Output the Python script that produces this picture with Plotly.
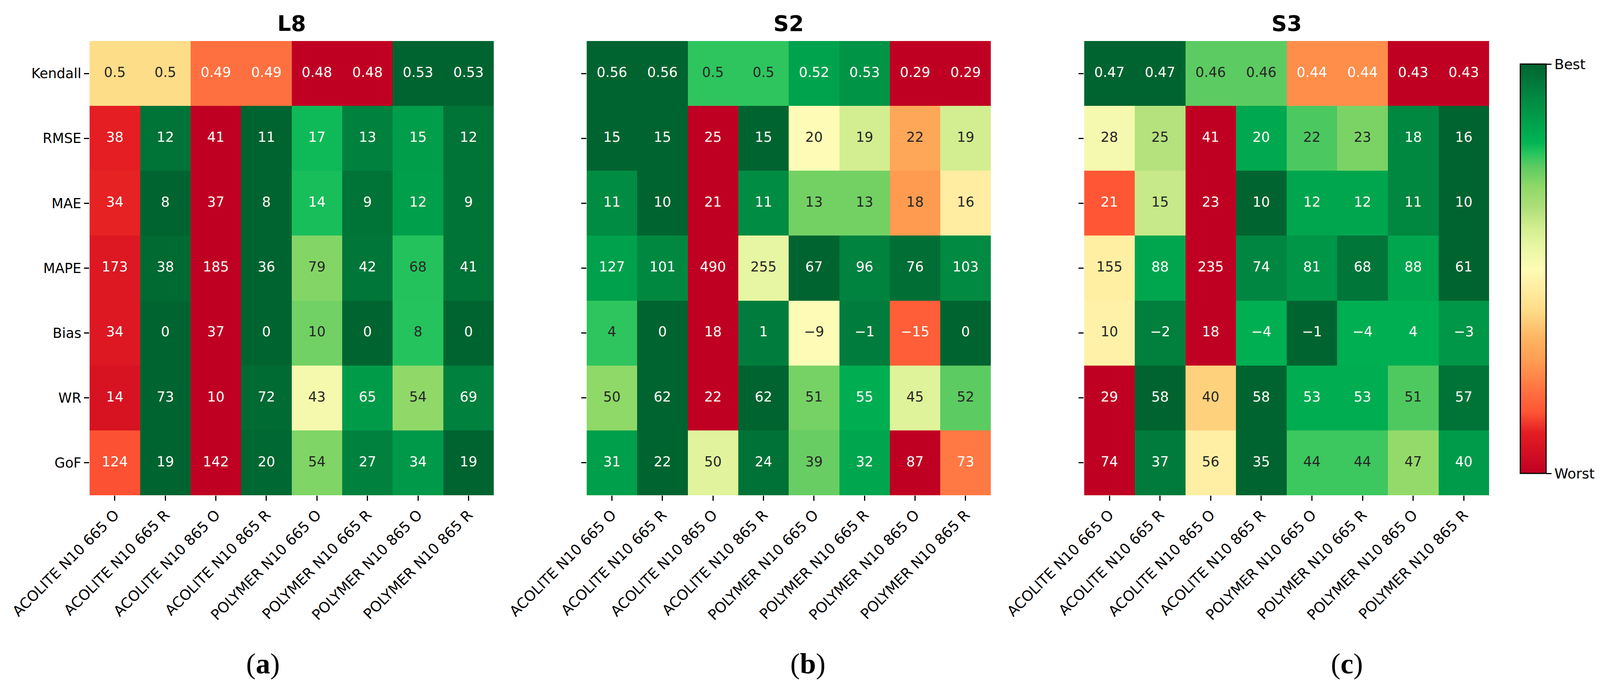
import plotly.graph_objects as go

# ---------------- data ----------------
metrics = ["Kendall", "RMSE", "MAE", "MAPE", "Bias", "WR", "GoF"]
methods = ["ACOLITE N10 665 O", "ACOLITE N10 665 R", "ACOLITE N10 865 O", "ACOLITE N10 865 R",
           "POLYMER N10 665 O", "POLYMER N10 665 R", "POLYMER N10 865 O", "POLYMER N10 865 R"]

l8_values = [
    [0.5, 0.5, 0.49, 0.49, 0.48, 0.48, 0.53, 0.53],
    [38, 12, 41, 11, 17, 13, 15, 12],
    [34, 8, 37, 8, 14, 9, 12, 9],
    [173, 38, 185, 36, 79, 42, 68, 41],
    [34, 0, 37, 0, 10, 0, 8, 0],
    [14, 73, 10, 72, 43, 65, 54, 69],
    [124, 19, 142, 20, 54, 27, 34, 19],
]
s2_values = [
    [0.56, 0.56, 0.5, 0.5, 0.52, 0.53, 0.29, 0.29],
    [15, 15, 25, 15, 20, 19, 22, 19],
    [11, 10, 21, 11, 13, 13, 18, 16],
    [127, 101, 490, 255, 67, 96, 76, 103],
    [4, 0, 18, 1, -9, -1, -15, 0],
    [50, 62, 22, 62, 51, 55, 45, 52],
    [31, 22, 50, 24, 39, 32, 87, 73],
]
s3_values = [
    [0.47, 0.47, 0.46, 0.46, 0.44, 0.44, 0.43, 0.43],
    [28, 25, 41, 20, 22, 23, 18, 16],
    [21, 15, 23, 10, 12, 12, 11, 10],
    [155, 88, 235, 74, 81, 68, 88, 61],
    [10, -2, 18, -4, -1, -4, 4, -3],
    [29, 58, 40, 58, 53, 53, 51, 57],
    [74, 37, 56, 35, 44, 44, 47, 40],
]
sensor_titles = ["L8", "S2", "S3"]
panel_labels = ["a", "b", "c"]
higher_is_better = ["Kendall", "WR"]
abs_is_better = ["Bias"]
cbar_labels = ["Worst", "Best"]

# ---------------- style / layout ----------------
colorscale = [
    [0.00, "#c00023"], [0.10, "#e41e22"], [0.15, "#ff5535"], [0.20, "#ff7040"],
    [0.27, "#ff9a50"], [0.33, "#feb462"], [0.40, "#fedd88"], [0.47, "#fff2a8"],
    [0.50, "#fdfbb5"], [0.55, "#eaf7a5"], [0.60, "#d3ee90"], [0.65, "#addf78"],
    [0.70, "#8fd968"], [0.75, "#5ccb61"], [0.78, "#2ac55e"], [0.81, "#00b454"],
    [0.87, "#009c4a"], [0.93, "#00843f"], [1.00, "#006430"],
]
FONT = "DejaVu Sans"
REF_W, REF_H = 4342, 1764      # reference picture size
VIEW_W = 4096                  # visible browser width
PAGE_MARGIN = 8                # default html body margin
SX = VIEW_W / REF_W
W = VIEW_W - PAGE_MARGIN
H = REF_H - PAGE_MARGIN


def fx(X):
    """reference x pixel -> paper fraction"""
    return (X * SX - PAGE_MARGIN) / W


def fy(Y):
    """reference y pixel (from top) -> paper fraction (from bottom)"""
    return 1 - (Y - PAGE_MARGIN) / H


x_domains = [(fx(243), fx(1340)), (fx(1592), fx(2689)), (fx(2942), fx(4041))]
y_domain = (fy(1268), fy(105))
panel_label_x = [fx(713), fx(2192), fx(3655)]


def row_scores(rows):
    out = []
    for m, row in zip(metrics, rows):
        v = [abs(x) for x in row] if m in abs_is_better else list(row)
        lo, hi = min(v), max(v)
        if m in higher_is_better:
            out.append([(x - lo) / (hi - lo) for x in v])
        else:
            out.append([(hi - x) / (hi - lo) for x in v])
    return out


def fmt(v):
    return f"{v:g}".replace("-", "\u2212")


fig = go.Figure()
all_values = [l8_values, s2_values, s3_values]
for i, vals in enumerate(all_values):
    sc = row_scores(vals)
    xa = "x" if i == 0 else f"x{i+1}"
    ya = "y" if i == 0 else f"y{i+1}"
    fig.add_trace(go.Heatmap(
        z=sc, x=methods, y=metrics, zmin=0, zmax=1, colorscale=colorscale,
        xaxis=xa, yaxis=ya, hoverinfo="skip",
        showscale=(i == 2),
        colorbar=dict(
            x=fx(4126), xanchor="left", xpad=0, ypad=0,
            y=(fy(164) + fy(1212)) / 2, yanchor="middle",
            len=fy(164) - fy(1212), lenmode="fraction", thickness=66,
            outlinewidth=3, outlinecolor="black",
            tickvals=[0, 1], ticktext=cbar_labels, ticks="outside",
            ticklen=13, tickwidth=2.5, tickcolor="black",
            tickfont=dict(family=FONT, size=36, color="black"),
        ),
    ))
    tx, ty, tt, tc = [], [], [], []
    for r, m in enumerate(metrics):
        for c, meth in enumerate(methods):
            tx.append(meth)
            ty.append(m)
            tt.append(fmt(vals[r][c]))
            s = sc[r][c]
            tc.append("#262626" if 0.26 < s <= 0.79 else "white")
    fig.add_trace(go.Scatter(
        x=tx, y=ty, text=tt, mode="text", xaxis=xa, yaxis=ya,
        textfont=dict(family=FONT, size=35, color=tc),
        hoverinfo="skip", showlegend=False,
    ))

    axis_common = dict(showgrid=False, zeroline=False, showline=False,
                       ticks="outside", ticklen=13, tickwidth=2.5, tickcolor="black",
                       automargin=False)
    xkey = "xaxis" if i == 0 else f"xaxis{i+1}"
    ykey = "yaxis" if i == 0 else f"yaxis{i+1}"
    fig.update_layout({
        xkey: dict(domain=list(x_domains[i]), anchor=ya, type="category",
                   tickangle=-45, tickfont=dict(family=FONT, size=37, color="black"),
                   **axis_common),
        ykey: dict(domain=list(y_domain), anchor=xa, type="category",
                   autorange="reversed", showticklabels=(i == 0),
                   tickfont=dict(family=FONT, size=35, color="black"),
                   **axis_common),
    })
    fig.add_annotation(
        x=(x_domains[i][0] + x_domains[i][1]) / 2, y=fy(60), xref="paper", yref="paper",
        text=f"<b>{sensor_titles[i]}</b>", showarrow=False, xanchor="center", yanchor="middle",
        font=dict(family=FONT, size=55, color="black"),
    )
    fig.add_annotation(
        x=panel_label_x[i], y=fy(1699), xref="paper", yref="paper",
        text=f"(<b>{panel_labels[i]}</b>)", showarrow=False, xanchor="center", yanchor="middle",
        font=dict(family="Liberation Serif", size=74, color="black"),
    )

fig.update_layout(
    width=W, height=H, margin=dict(l=0, r=0, t=0, b=0),
    paper_bgcolor="white", plot_bgcolor="white", showlegend=False,
    font=dict(family=FONT, color="black"),
)
fig.write_html("out.html")
